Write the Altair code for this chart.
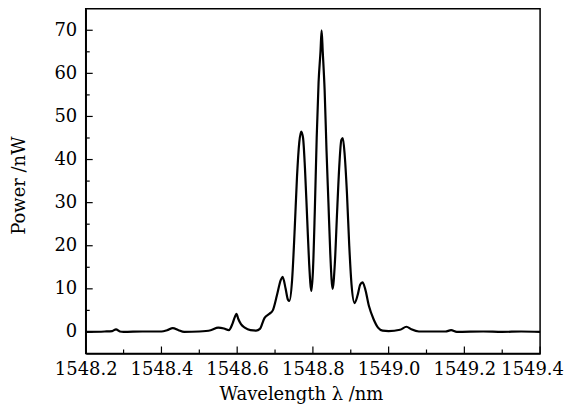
import altair as alt
import pandas as pd

wavelength = [
    1548.20, 1548.25, 1548.27, 1548.28, 1548.29, 1548.30, 1548.35, 1548.40, 1548.415,
    1548.43, 1548.445, 1548.46, 1548.50, 1548.53, 1548.55, 1548.565, 1548.578,
    1548.588, 1548.594, 1548.598, 1548.603, 1548.61, 1548.62, 1548.635, 1548.65,
    1548.66, 1548.672, 1548.685, 1548.694, 1548.705, 1548.715, 1548.72, 1548.728,
    1548.734, 1548.738, 1548.745, 1548.752, 1548.758, 1548.764, 1548.769, 1548.774,
    1548.779, 1548.785, 1548.790, 1548.796, 1548.800, 1548.805, 1548.810, 1548.815,
    1548.820, 1548.823, 1548.826, 1548.831, 1548.836, 1548.841, 1548.846, 1548.852,
    1548.858, 1548.864, 1548.870, 1548.875, 1548.879, 1548.884, 1548.890, 1548.896,
    1548.902, 1548.910, 1548.918, 1548.925, 1548.931, 1548.938, 1548.948, 1548.960,
    1548.972, 1548.984, 1549.00, 1549.03, 1549.047, 1549.06, 1549.08, 1549.15,
    1549.165, 1549.18, 1549.25, 1549.30, 1549.35, 1549.40,
]
power = [
    0.0, 0.1, 0.2, 0.6, 0.1, 0.0, 0.1, 0.1, 0.4,
    0.9, 0.4, 0.0, 0.1, 0.4, 1.0, 0.8, 0.4,
    2.0, 3.5, 4.2, 3.0, 1.8, 1.0, 0.4, 0.3,
    0.7, 3.2, 4.2, 5.0, 8.5, 12.0, 12.8, 10.0,
    7.5, 7.2, 12.0, 24.0, 36.0, 44.0, 46.5, 45.0,
    38.0, 26.0, 16.0, 9.5, 14.0, 28.0, 45.0, 58.0,
    65.0, 70.0, 65.0, 56.0, 42.0, 30.0, 18.0, 10.0,
    16.0, 28.0, 39.0, 44.5, 45.0, 41.0, 32.0, 20.0,
    11.0, 6.7, 8.5, 11.0, 11.5, 10.0, 6.0, 3.0,
    1.0, 0.3, 0.2, 0.5, 1.2, 0.6, 0.1, 0.1,
    0.4, 0.0, 0.1, 0.0, 0.1, 0.0,
]

x_major = [1548.2, 1548.4, 1548.6, 1548.8, 1549.0, 1549.2, 1549.4]
x_minor = [1548.3, 1548.5, 1548.7, 1548.9, 1549.1, 1549.3]
y_major = [0, 10, 20, 30, 40, 50, 60, 70]
y_minor = [5, 15, 25, 35, 45, 55, 65]

W, H = 456, 346
FONT = "DejaVu Serif"

df = pd.DataFrame({"wl": wavelength, "p": power})
xscale = alt.Scale(domain=[1548.2, 1549.4], nice=False, zero=False)
yscale = alt.Scale(domain=[-5, 75], nice=False, zero=False)

line = alt.Chart(df).mark_line(color="black", strokeWidth=2.2, interpolate="monotone").encode(
    x=alt.X("wl:Q", scale=xscale,
            axis=alt.Axis(values=x_major, format=".1f", title="Wavelength λ /nm",
                          labelFont=FONT, labelOverlap=False, labelFlush=False,
                          labelPadding=7,
                          labelOffset={"condition": {"test": "datum.value > 1549.35", "value": -8},
                                       "value": 0},
                          titleX=216, titleY=41, titleBaseline="middle")),
    y=alt.Y("p:Q", scale=yscale,
            axis=alt.Axis(values=y_major, format="d", title="Power /nW",
                          labelFont=FONT, labelOverlap=False, labelFlush=False,
                          labelPadding=9,
                          titleX=-66, titleY=177, titleBaseline="middle",
                          titleAlign="center")),
)

def xticks(vals, length):
    return alt.Chart(pd.DataFrame({"v": vals})).mark_rule(color="black", strokeWidth=1.2).encode(
        x=alt.X("v:Q", scale=xscale),
        y=alt.value(H), y2=alt.value(H - length))

def yticks(vals, length):
    return alt.Chart(pd.DataFrame({"v": vals})).mark_rule(color="black", strokeWidth=1.2).encode(
        y=alt.Y("v:Q", scale=yscale),
        x=alt.value(0), x2=alt.value(length))

chart = alt.layer(
    line, xticks(x_major, 7), xticks(x_minor, 4), yticks(y_major, 7), yticks(y_minor, 4)
).properties(
    width=W, height=H,
    autosize=alt.AutoSizeParams(type="none"),
    padding={"left": 78, "top": 0, "right": 25, "bottom": 52},
).configure_view(
    stroke="black", strokeWidth=1.5
).configure_axis(
    grid=False, ticks=False, domain=True, domainColor="black", domainWidth=1.5,
    labelFont=FONT, titleFont=FONT, labelFontSize=18, titleFontSize=18,
    labelColor="black", titleColor="black", titleFontWeight="normal",
)

chart.save("out.html", embed_options={"renderer": "svg", "actions": False})
